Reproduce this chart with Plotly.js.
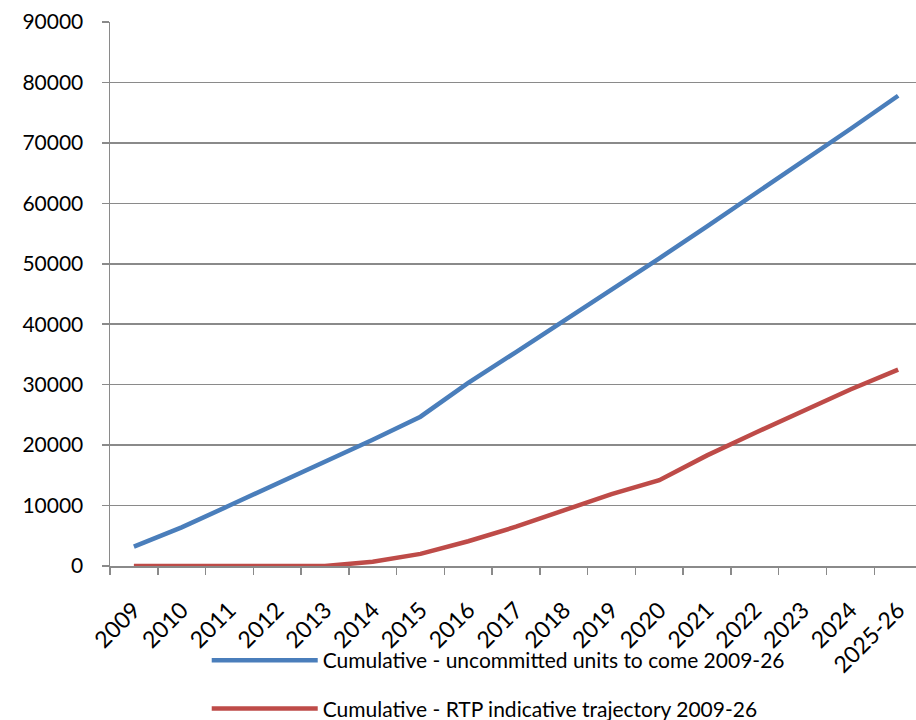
<!DOCTYPE html>
<html>
<head>
<meta charset="utf-8">
<script src="https://cdn.plot.ly/plotly-3.0.1.min.js"></script>
<style>
  html, body { margin: 0; padding: 0; background: #ffffff; }
  #chart { width: 916px; height: 720px; }
</style>
</head>
<body>
<div id="chart"></div>
<script>
// Years on the category axis
const years = ['2009', '2010', '2011', '2012', '2013', '2014', '2015', '2016', '2017',
               '2018', '2019', '2020', '2021', '2022', '2023', '2024', '2025-26'];

// Cumulative uncommitted units still to come
const uncommitted = [3200, 6400, 10000, 13600, 17100, 20900, 24700, 30300, 35400,
                     40500, 45700, 50900, 56200, 61500, 66900, 72300, 77800];

// Cumulative RTP indicative trajectory
const rtpTrajectory = [0, 0, 0, 0, 0, 700, 2000, 4100, 6500,
                       9200, 11900, 14200, 18300, 22000, 25600, 29200, 32500];

const seriesNames = ['Cumulative - uncommitted units to come 2009-26',
                     'Cumulative - RTP indicative trajectory 2009-26'];

const FONT = 'Lato, "Liberation Sans", sans-serif';
const GRID = '#8a8a8a';

const traces = [
  {
    x: years, y: uncommitted, name: seriesNames[0], type: 'scatter', mode: 'lines',
    line: { color: '#4a7ebb', width: 4.5 }, legendgroup: 'a'
  },
  {
    x: years, y: rtpTrajectory, name: seriesNames[1], type: 'scatter', mode: 'lines',
    line: { color: '#be4b48', width: 4.5 }, legendgroup: 'b'
  }
];

const layout = {
  width: 916, height: 720,
  margin: { l: 110, r: 0, t: 22, b: 154, autoexpand: false },
  paper_bgcolor: '#ffffff', plot_bgcolor: '#ffffff',
  font: { family: FONT, size: 21, color: '#000000' },
  showlegend: true,
  legend: {
    orientation: 'v', x: 0.12, xanchor: 'left', y: -0.136, yanchor: 'top',
    font: { family: FONT, size: 21, color: '#000000' },
    itemwidth: 106, tracegroupgap: 18, bgcolor: 'rgba(0,0,0,0)'
  },
  xaxis: {
    type: 'category', range: [-0.5, 16.374], automargin: false,
    tickangle: -45, tickson: 'boundaries', ticks: 'outside', ticklen: 7,
    tickcolor: GRID, tickwidth: 1.5, ticklabelstandoff: 20,
    showline: true, linecolor: GRID, linewidth: 1.5,
    showgrid: false, zeroline: false,
    tickfont: { family: FONT, size: 23, color: '#000000' }
  },
  yaxis: {
    range: [0, 90000], dtick: 10000, tick0: 0, tickformat: 'd', automargin: false,
    ticks: 'outside', ticklen: 7, tickcolor: GRID, tickwidth: 1.5,
    showline: true, linecolor: GRID, linewidth: 1.5,
    showgrid: true, gridcolor: GRID, gridwidth: 1.5,
    zeroline: false, ticklabelstandoff: 14,
    tickfont: { family: FONT, size: 21, color: '#000000' }
  }
};

Plotly.newPlot('chart', traces, layout, { staticPlot: true, displayModeBar: false });
</script>
</body>
</html>
